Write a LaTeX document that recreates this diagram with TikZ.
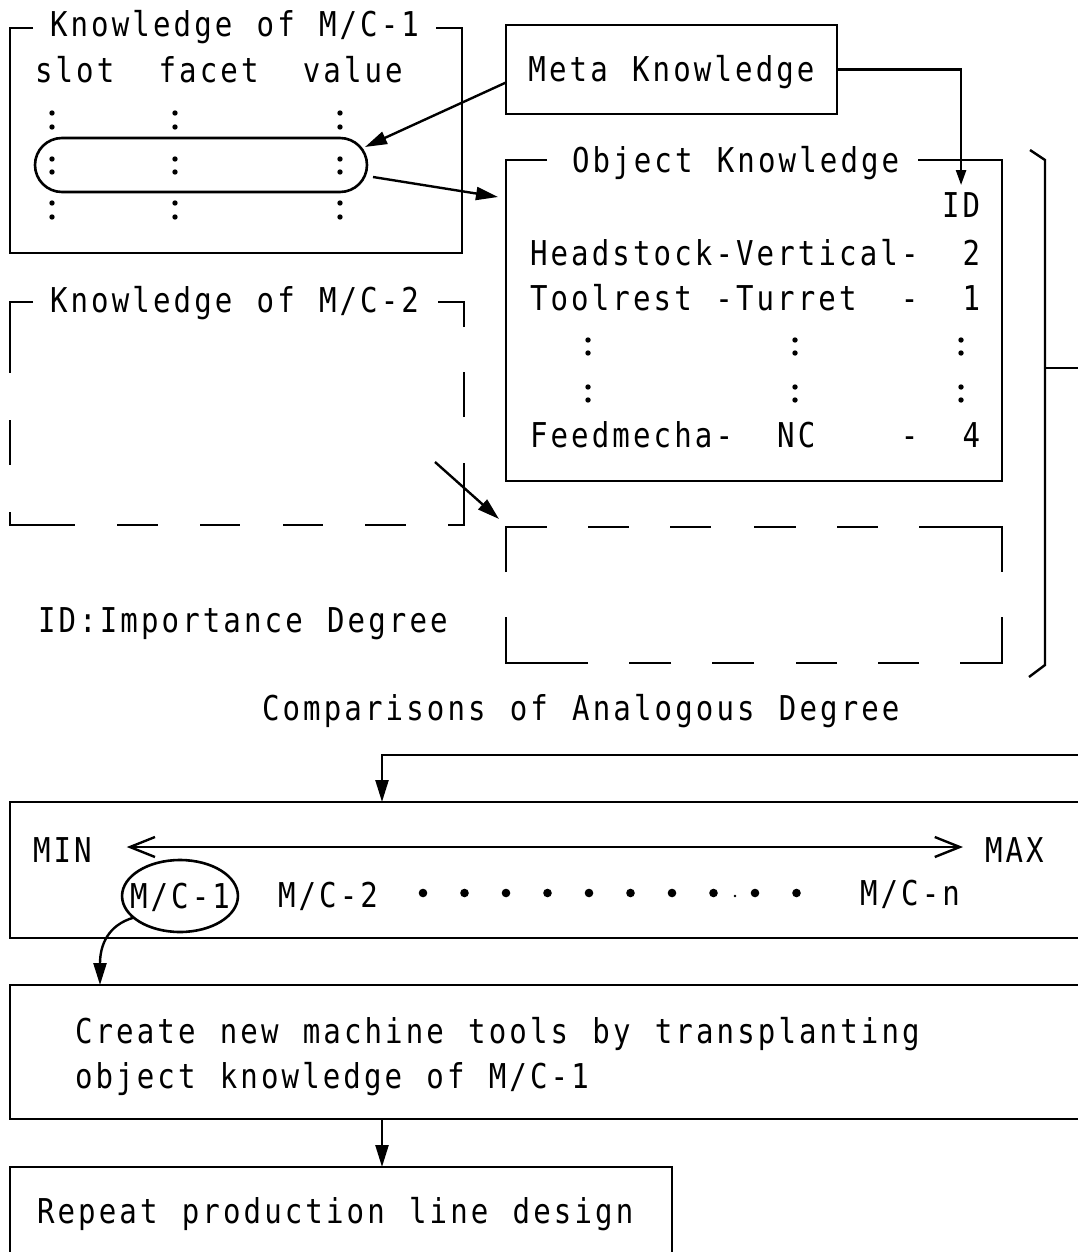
\documentclass[tikz,border=0pt]{standalone}
\usepackage{fontspec}
\newfontfamily\dgfont[FakeStretch=0.85,LetterSpace=9.1,WordSpace=1.177]{DejaVu Sans Mono}
\usetikzlibrary{arrows.meta,shapes.geometric,shapes.misc}
\begin{document}
\begin{tikzpicture}[x=1pt,y=-1pt,
  line width=2.4pt,
  every node/.style={font=\dgfont\fontsize{34.2}{41}\selectfont, inner sep=0pt, outer sep=0pt},
  lbl/.style={anchor=base west},
  area/.style 2 args={anchor=north west, minimum width=#1, minimum height=#2},
  captext/.style={text height=24.9pt, text depth=0pt},
  arr/.style={-{Triangle[length=22pt,width=13pt]}},
  arrsmall/.style={-{Triangle[length=15pt,width=10pt]}},
  barbs/.style={{Straight Barb[length=25pt,width=20pt]}-{Straight Barb[length=25pt,width=20pt]}},
  colondot/.style={radius=2.7pt},
]
\fill[white] (0,0) rectangle (1078,1252);
\useasboundingbox (0,0) rectangle (1078,1252);
\clip (0,0) rectangle (1078,1252);

% character pitch of the typewriter lettering
\def\pitch{20.6}

% ---- Knowledge of M/C-1 ----
\node[area={452}{225}] (k1) at (10,28) {};
\draw ([xshift=23pt]k1.north west) -- (k1.north west) -- (k1.south west)
      -- (k1.south east) -- (k1.north east) -- ([xshift=-26pt]k1.north east);
\node[lbl] (k1t) at (50,37) {Knowledge of M/C-1};
\node[lbl] (slot)  at (35,83) {slot};
\node[lbl] (facet) at (35+6*\pitch,83) {facet};
\node[lbl] (value) at (35+13*\pitch,83) {value};
\foreach \x in {52,175,340}
  \foreach \y in {113,127,159,172,203,217}
    \fill (\x,\y) circle[colondot];
\node[draw, rounded rectangle, minimum width=332, minimum height=54, line width=2.6pt] (loop1) at (201,165) {};

% ---- Meta Knowledge ----
\node[draw, area={331}{89}, captext] (meta) at (506,25) {Meta Knowledge};

% ---- Object Knowledge ----
\node[area={496}{321}] (obj) at (506,160) {};
\draw ([xshift=41pt]obj.north west) -- (obj.north west) -- (obj.south west)
      -- (obj.south east) -- (obj.north east) -- ([xshift=-84pt]obj.north east);
\node[lbl] (objt) at (572,173) {Object Knowledge};
\node[lbl] (id) at (530+20*\pitch,218) {ID};
\node[lbl] (r1a) at (530,265) {Headstock-Vertical-};
\node[lbl] (r1d) at (530+21*\pitch,265) {2};
\node[lbl] (r2a) at (530,310) {Toolrest};
\node[lbl] (r2b) at (530+9*\pitch,310) {-Turret};
\node[lbl] (r2c) at (530+18*\pitch,310) {-};
\node[lbl] (r2d) at (530+21*\pitch,310) {1};
\node[lbl] (r3a) at (530,447) {Feedmecha-};
\node[lbl] (r3b) at (530+12*\pitch,447) {NC};
\node[lbl] (r3c) at (530+18*\pitch,447) {-};
\node[lbl] (r3d) at (530+21*\pitch,447) {4};
\foreach \x in {588,795,961}
  \foreach \y in {340,353,387,400}
    \fill (\x,\y) circle[colondot];

\draw[arr] ([yshift=-13pt]meta.west) -- ([xshift=-2pt,yshift=18pt]loop1.east);
\draw[arr] ([xshift=6pt,yshift=-12pt]loop1.east) -- ([xshift=-8pt,yshift=-37pt]obj.north west);
\draw[arrsmall] (meta.east) -| ([yshift=8pt]id.north);

% ---- Knowledge of M/C-2 (dashed) ----
\node[area={454}{223}] (k2) at (10,302) {};
\node[lbl] (k2t) at (50,312) {Knowledge of M/C-2};
\draw (33,302) -- (10,302) -- (10,373);
\draw (10,420) -- (10,465);
\draw (10,512) -- (10,525) -- (75,525);
\draw (117,525) -- (158,525);
\draw (200,525) -- (240,525);
\draw (283,525) -- (323,525);
\draw (365,525) -- (406,525);
\draw (448,525) -- (464,525) -- (464,463);
\draw (464,417) -- (464,372);
\draw (464,327) -- (464,302) -- (438,302);

% ---- empty dashed frame ----
\node[area={496}{136}] (k3) at (506,527) {};
\draw (506,572) -- (506,527) -- (547,527);
\draw (588,527) -- (629,527);
\draw (670,527) -- (711,527);
\draw (754,527) -- (796,527);
\draw (837,527) -- (878,527);
\draw (919,527) -- (1002,527) -- (1002,572);
\draw (1002,617) -- (1002,663) -- (960,663);
\draw (919,663) -- (878,663);
\draw (837,663) -- (796,663);
\draw (754,663) -- (712,663);
\draw (671,663) -- (629,663);
\draw (588,663) -- (506,663) -- (506,617);

\draw[arr] ([shift={(-29pt,63pt)}]k2.south east) -- ([shift={(-7pt,8pt)}]k3.north west);

\node[lbl] (note) at (38,632) {ID:Importance Degree};
\node[lbl] (cmp) at (262,720) {Comparisons of Analogous Degree};

% ---- brace grouping the object knowledge ----
\draw (1030,150) -- (1045,160) -- (1045,665) -- (1029,677);
\coordinate (bmid) at (1045,368);

% ---- ranking by analogous degree ----
\node[draw, area={1100}{136}] (rank) at (10,802) {};
\draw[arr] (bmid) -- (1100,368) -- (1100,755) -- (382,755) -- ([xshift=372pt]rank.north west);
\node[lbl] (minl) at (33,862) {MIN};
\node[lbl] (maxl) at (985,862) {MAX};
\draw[barbs] ([xshift=35pt,yshift=15pt]minl.base east) -- ([xshift=-22pt,yshift=15pt]maxl.base west);
\node[draw, ellipse, inner xsep=-9pt, inner ysep=13pt, captext, line width=2.6pt] (mc1) at (180,896) {M/C-1};
\node[lbl] (mc2) at (278,907) {M/C-2};
\foreach \i in {0,...,9}
  \fill (423+41.5*\i,893) circle[radius=4.3pt];
\fill (735,896) circle[radius=1.3pt];
\node[lbl] (mcn) at (860,905) {M/C-n};

% ---- transplanting ----
\node[draw, area={1100}{134}] (create) at (10,985) {};
\node[lbl] (c1) at (75,1043) {Create new machine tools by transplanting};
\node[lbl] (c2) at (75,1088) {object knowledge of M/C-1};
\draw[arr] (mc1.205) .. controls (108,925) and (100,945) .. ([xshift=90pt]create.north west);

% ---- repeat ----
\node[draw, area={662}{130}] (rep) at (10,1167) {};
\node[lbl] (rp) at (37,1223) {Repeat production line design};
\draw[arr] ([xshift=372pt]create.south west) -- ([xshift=372pt]rep.north west);
\end{tikzpicture}
\end{document}
